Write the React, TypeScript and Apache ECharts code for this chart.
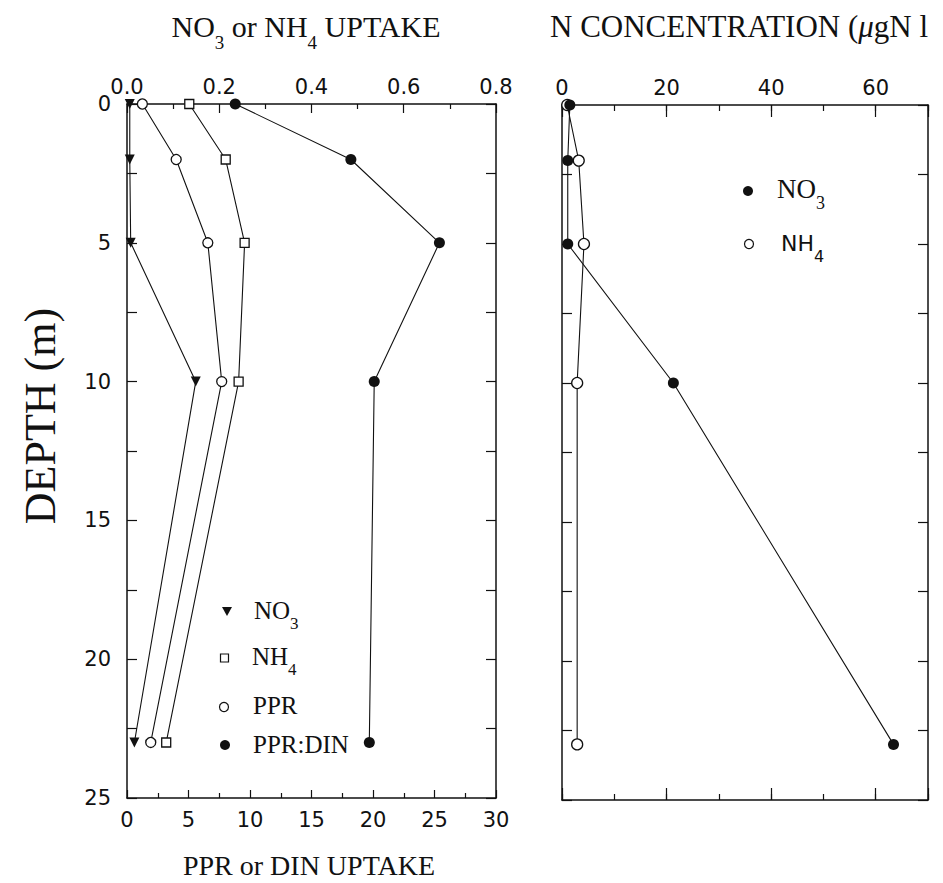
import React, { useEffect, useRef } from "react";
import * as echarts from "echarts";

// ---- data ----
const depths = [0, 2, 5, 10, 23];
// left panel, top axis (NO3 or NH4 uptake)
const no3Uptake = [0.006, 0.006, 0.008, 0.149, 0.016];
const nh4Uptake = [0.135, 0.214, 0.255, 0.242, 0.085];
// left panel, bottom axis (PPR or DIN uptake)
const pprUptake = [1.25, 4.0, 6.57, 7.7, 1.93];
const pprDin = [8.8, 18.2, 25.4, 20.1, 19.7];
// right panel (N concentration)
const no3Conc = [1.5, 1.1, 1.1, 21.3, 63.4];
const nh4Conc = [1.0, 3.2, 4.2, 2.9, 2.9];

const leftBottomTicks = { min: 0, max: 30, interval: 5 };
const leftTopTicks = { min: 0, max: 0.8, interval: 0.2 };
const depthTicks = { min: 0, max: 25, interval: 2.5 };
const rightTicks = { min: 0, max: 70, interval: 20 };

const SERIF = "'Liberation Serif', 'Times New Roman', serif";
const SANS = "'DejaVu Sans', 'Liberation Sans', Arial, sans-serif";
const INK = "#111";

const pairs = (xs: number[]) => depths.map((d, i) => [xs[i], d]);

export default function App() {
  const ref = useRef<HTMLDivElement>(null);
  useEffect(() => {
    if (!ref.current) return;
    const chart = echarts.init(ref.current, null, { renderer: "svg" });

    const axisLine = { show: true, onZero: false, lineStyle: { color: INK, width: 1.5 } };
    const noLine = { show: false, onZero: false };
    const label = { color: INK, fontFamily: SANS, fontSize: 21, lineHeight: 16 };

    const baseX = (extra: any) => ({
      type: "value",
      splitLine: { show: false },
      axisLine,
      ...extra,
    });

    const yAxisCommon = (gridIndex: number, position: string, showLabel: boolean) => ({
      type: "value",
      gridIndex,
      position,
      inverse: true,
      min: depthTicks.min,
      max: depthTicks.max,
      interval: depthTicks.interval,
      splitLine: { show: false },
      axisLine,
      axisTick: { show: true, inside: true, length: 10, lineStyle: { color: INK, width: 1.2 } },
      axisLabel: showLabel
        ? { ...label, margin: 16, formatter: (v: number) => (v % 5 === 0 ? String(v) : "") }
        : { show: false },
    });

    const lineSeries = (
      name: string,
      xAxisIndex: number,
      yAxisIndex: number,
      xs: number[],
      symbol: string,
      filled: boolean,
      size: number,
      rotate = 0
    ) => ({
      type: "line",
      name,
      xAxisIndex,
      yAxisIndex,
      data: pairs(xs),
      symbol,
      symbolSize: size,
      symbolRotate: rotate,
      showAllSymbol: true,
      lineStyle: { color: INK, width: 1.1 },
      itemStyle: filled
        ? { color: INK, borderColor: INK, borderWidth: 0 }
        : { color: "#fff", borderColor: INK, borderWidth: 1.3 },
      emphasis: { disabled: true },
      z: 3,
    });

    const sub = (size: number, pad: number) => ({ fontSize: size, padding: [pad, 0, 0, 0] });

    chart.setOption({
      animation: false,
      backgroundColor: "#fff",
      grid: [
        { left: 127, top: 104, width: 369, height: 694 },
        { left: 562, top: 105, width: 366, height: 695 },
      ],
      xAxis: [
        // 0: left bottom
        baseX({
          gridIndex: 0,
          position: "bottom",
          min: leftBottomTicks.min,
          max: leftBottomTicks.max,
          interval: leftBottomTicks.interval,
          axisTick: { inside: true, length: 8, lineStyle: { color: INK, width: 1.2 } },
          minorTick: { show: true, splitNumber: 2, length: 5, lineStyle: { color: INK, width: 1.2 } },
          axisLabel: { ...label, margin: 14 },
        }),
        // 1: left top
        baseX({
          gridIndex: 0,
          position: "top",
          min: leftTopTicks.min,
          max: leftTopTicks.max,
          interval: leftTopTicks.interval,
          axisTick: { inside: true, length: 9, lineStyle: { color: INK, width: 1.2 } },
          minorTick: { show: true, splitNumber: 2, length: 5, lineStyle: { color: INK, width: 1.2 } },
          axisLabel: { ...label, margin: 9, formatter: (v: number) => v.toFixed(1) },
        }),
        // 2: right bottom minor
        baseX({
          gridIndex: 1,
          position: "bottom",
          min: rightTicks.min,
          max: rightTicks.max,
          interval: rightTicks.interval / 2,
          axisTick: { inside: true, length: 6, lineStyle: { color: INK, width: 1.2 } },
          axisLabel: { show: false },
        }),
        // 3: right bottom major
        baseX({
          gridIndex: 1,
          position: "bottom",
          min: rightTicks.min,
          max: rightTicks.max,
          interval: rightTicks.interval,
          axisLine: noLine,
          axisTick: { inside: true, length: 12, lineStyle: { color: INK, width: 1.2 } },
          axisLabel: { show: false },
        }),
        // 4: right top minor
        baseX({
          gridIndex: 1,
          position: "top",
          min: rightTicks.min,
          max: rightTicks.max,
          interval: rightTicks.interval / 2,
          axisTick: { inside: true, length: 6, lineStyle: { color: INK, width: 1.2 } },
          axisLabel: { show: false },
        }),
        // 5: right top major with labels
        baseX({
          gridIndex: 1,
          position: "top",
          min: rightTicks.min,
          max: rightTicks.max,
          interval: rightTicks.interval,
          axisLine: noLine,
          axisTick: { inside: true, length: 12, lineStyle: { color: INK, width: 1.2 } },
          axisLabel: {
            ...label,
            margin: 9,
            formatter: (v: number) => (v % 20 === 0 ? String(v) : ""),
          },
        }),
      ],
      yAxis: [
        yAxisCommon(0, "left", true),
        yAxisCommon(0, "right", false),
        yAxisCommon(1, "left", false),
        yAxisCommon(1, "right", false),
      ],
      series: [
        lineSeries("PPR:DIN", 0, 0, pprDin, "circle", true, 11),
        lineSeries("PPR", 0, 0, pprUptake, "circle", false, 10),
        lineSeries("NH4", 1, 0, nh4Uptake, "rect", false, 9),
        lineSeries("NO3", 1, 0, no3Uptake, "triangle", true, 10, 180),
        lineSeries("NH4 conc", 2, 2, nh4Conc, "circle", false, 11),
        lineSeries("NO3 conc", 2, 2, no3Conc, "circle", true, 11),
      ],
      graphic: [
        {
          type: "text",
          x: 306,
          y: 26,
          style: {
            text: "{a|NO}{s|3}{a| or NH}{s|4}{a| UPTAKE}",
            align: "center",
            verticalAlign: "middle",
            fill: INK,
            fontFamily: SERIF,
            rich: { a: { fontSize: 30, fontFamily: SERIF }, s: { ...sub(19, 32), fontFamily: SERIF } },
          },
        },
        {
          type: "text",
          x: 550,
          y: 26,
          style: {
            text: "{a|N CONCENTRATION (}{m|μ}{a|gN l}",
            align: "left",
            verticalAlign: "middle",
            fill: INK,
            fontFamily: SERIF,
            rich: {
              a: { fontSize: 31, fontFamily: SERIF },
              m: { fontSize: 31, fontFamily: SERIF, fontStyle: "italic" },
            },
          },
        },
        {
          type: "text",
          x: 309,
          y: 865,
          style: {
            text: "PPR or DIN UPTAKE",
            align: "center",
            verticalAlign: "middle",
            fill: INK,
            font: `28px ${SERIF}`,
          },
        },
        {
          type: "text",
          x: 40,
          y: 416,
          rotation: Math.PI / 2,
          style: {
            text: "DEPTH (m)",
            align: "center",
            verticalAlign: "middle",
            fill: INK,
            font: `44px ${SERIF}`,
          },
        },
        // left legend
        {
          type: "polygon",
          shape: { points: [[222, 607], [232, 607], [227, 616]] },
          style: { fill: INK },
        },
        {
          type: "text",
          x: 254,
          y: 610,
          style: {
            text: "{a|NO}{s|3}",
            verticalAlign: "middle",
            fill: INK,
            rich: { a: { fontSize: 25, fontFamily: SERIF }, s: { ...sub(17, 26), fontFamily: SERIF } },
          },
        },
        {
          type: "rect",
          shape: { x: 220.5, y: 654, width: 8, height: 8 },
          style: { fill: "#fff", stroke: INK, lineWidth: 1.2 },
        },
        {
          type: "text",
          x: 252,
          y: 656,
          style: {
            text: "{a|NH}{s|4}",
            verticalAlign: "middle",
            fill: INK,
            rich: { a: { fontSize: 25, fontFamily: SERIF }, s: { ...sub(17, 26), fontFamily: SERIF } },
          },
        },
        {
          type: "circle",
          shape: { cx: 224, cy: 707, r: 4.5 },
          style: { fill: "#fff", stroke: INK, lineWidth: 1.2 },
        },
        {
          type: "text",
          x: 253,
          y: 705,
          style: { text: "PPR", verticalAlign: "middle", fill: INK, font: `25px ${SERIF}` },
        },
        {
          type: "circle",
          shape: { cx: 225, cy: 745, r: 5 },
          style: { fill: INK },
        },
        {
          type: "text",
          x: 253,
          y: 744,
          style: { text: "PPR:DIN", verticalAlign: "middle", fill: INK, font: `25px ${SERIF}` },
        },
        // right legend
        {
          type: "circle",
          shape: { cx: 748, cy: 191, r: 5 },
          style: { fill: INK },
        },
        {
          type: "text",
          x: 777,
          y: 189,
          style: {
            text: "{a|NO}{s|3}",
            verticalAlign: "middle",
            fill: INK,
            rich: { a: { fontSize: 27, fontFamily: SERIF }, s: { ...sub(18, 28), fontFamily: SERIF } },
          },
        },
        {
          type: "circle",
          shape: { cx: 749, cy: 244, r: 4.5 },
          style: { fill: "#fff", stroke: INK, lineWidth: 1.2 },
        },
        {
          type: "text",
          x: 781,
          y: 243,
          style: {
            text: "{a|NH}{s|4}",
            verticalAlign: "middle",
            fill: INK,
            rich: { a: { fontSize: 22, fontFamily: SANS }, s: { ...sub(16, 26), fontFamily: SANS } },
          },
        },
      ],
    });
    return () => chart.dispose();
  }, []);

  return (
    <div
      ref={ref}
      style={{ position: "absolute", left: 0, top: 0, width: 943, height: 883, background: "#fff" }}
    />
  );
}
